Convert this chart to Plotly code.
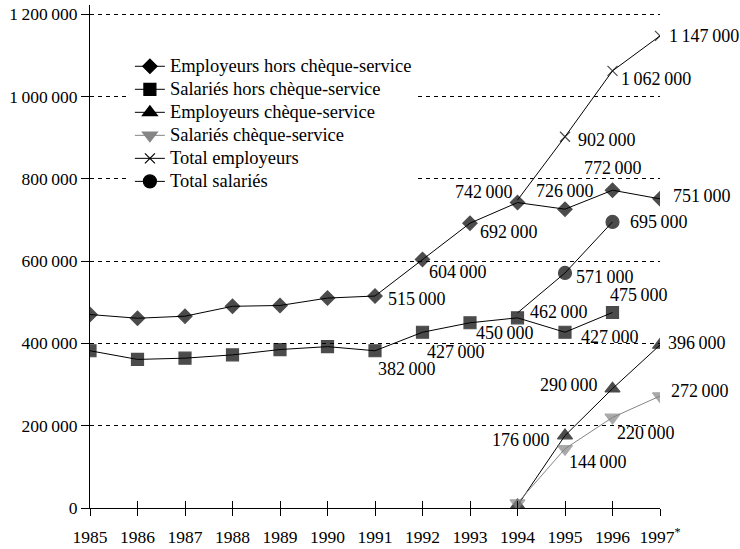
import plotly.graph_objects as go

years = [1985, 1986, 1987, 1988, 1989, 1990, 1991, 1992, 1993, 1994, 1995, 1996, 1997]
year_labels = ["1985", "1986", "1987", "1988", "1989", "1990", "1991", "1992", "1993",
               "1994", "1995", "1996", "1997<sup>*</sup>"]

employeurs_hors = [470000, 461000, 466000, 490000, 492000, 510000, 515000, 604000, 692000,
                   742000, 726000, 772000, 751000]
salaries_hors = [382000, 361000, 364000, 372000, 385000, 392000, 382000, 427000, 450000,
                 462000, 427000, 475000]
cs_years = [1994, 1995, 1996, 1997]
employeurs_cs = [6000, 176000, 290000, 396000]
salaries_cs = [12000, 144000, 220000, 272000]
total_employeurs = [748000, 902000, 1062000, 1147000]
total_salaries_years = [1994, 1995, 1996]
total_salaries = [474000, 571000, 695000]

y_ticks = [0, 200000, 400000, 600000, 800000, 1000000, 1200000]

names = ["Employeurs hors chèque-service", "Salariés hors chèque-service",
         "Employeurs chèque-service", "Salariés chèque-service",
         "Total employeurs", "Total salariés"]


def fmt(v):
    return f"{v:,}".replace(",", "\u2009")


FONT = "Liberation Serif"
GRAY = "#858585"

styles = [
    dict(color="black", symbol="diamond", size=11),
    dict(color="black", symbol="square", size=12),
    dict(color="black", symbol="triangle-up", size=13),
    dict(color=GRAY, symbol="triangle-down", size=13),
    dict(color="black", symbol="x-thin", size=10),
    dict(color="black", symbol="circle", size=13),
]

series = [
    (years, employeurs_hors, False),
    (years[:len(salaries_hors)], salaries_hors, False),
    (cs_years, employeurs_cs, False),
    (cs_years, salaries_cs, False),
    (cs_years, total_employeurs, True),
    (total_salaries_years, total_salaries, True),
]

fig = go.Figure()

for (xs, ys, hide_first), st, name in zip(series, styles, names):
    sizes = [0 if (hide_first and i == 0) else st["size"] for i in range(len(xs))]
    fig.add_trace(go.Scatter(
        x=xs, y=ys, name=name, mode="lines+markers", showlegend=False,
        line=dict(color=st["color"], width=1),
        marker=dict(symbol=st["symbol"], size=sizes, color=st["color"],
                    line=dict(color=st["color"], width=1.2))))

# legend entries
for st, name in zip(styles, names):
    fig.add_trace(go.Scatter(
        x=[None], y=[None], name=f'<span style="font-size:18.5px">{name}</span>',
        mode="lines+markers",
        line=dict(color=st["color"], width=1),
        marker=dict(symbol=st["symbol"], size=st["size"], color=st["color"],
                    line=dict(color=st["color"], width=1.2))))

# Data labels: (series x, series y, index, xanchor, xshift, yshift)
label_specs = [
    (years, employeurs_hors, 6, "left", 11, -3),
    (years, employeurs_hors, 7, "center", 35, -13),
    (years, employeurs_hors, 8, "center", 39, -9),
    (years, employeurs_hors, 9, "center", -34, 11),
    (years, employeurs_hors, 10, "center", 0, 18),
    (years, employeurs_hors, 11, "center", 0, 22),
    (years, employeurs_hors, 12, "left", 11, 3),
    (years, salaries_hors, 6, "center", 32, -18),
    (years, salaries_hors, 7, "center", 33, -20),
    (years, salaries_hors, 8, "center", 35, -10),
    (years, salaries_hors, 9, "left", 10, 6),
    (years, salaries_hors, 10, "left", 14, -5),
    (years, salaries_hors, 11, "center", 26, 17),
    (cs_years, employeurs_cs, 1, "right", -13, -4),
    (cs_years, employeurs_cs, 2, "right", -13, 4),
    (cs_years, employeurs_cs, 3, "left", 6, 2),
    (cs_years, salaries_cs, 1, "center", 33, -13),
    (cs_years, salaries_cs, 2, "center", 33, -16),
    (cs_years, salaries_cs, 3, "left", 9, 5),
    (cs_years, total_employeurs, 1, "left", 11, -3),
    (cs_years, total_employeurs, 2, "left", 6, -8),
    (cs_years, total_employeurs, 3, "left", 7, 0),
    (total_salaries_years, total_salaries, 1, "left", 9, -4),
    (total_salaries_years, total_salaries, 2, "left", 15, 0),
]

for xs, ys, i, xa, dx, dy in label_specs:
    fig.add_annotation(x=xs[i], y=ys[i], text=fmt(ys[i]), showarrow=False,
                       xanchor=xa, yanchor="middle", xshift=dx, yshift=dy,
                       font=dict(family=FONT, size=18, color="black"))

fig.update_layout(
    width=740, height=549,
    margin=dict(l=90, r=80, t=5, b=41),
    paper_bgcolor="white", plot_bgcolor="white",
    font=dict(family=FONT, size=17.5, color="black"),
    showlegend=True,
    legend=dict(x=0.07, y=0.911, xanchor="left", yanchor="top",
                bgcolor="white", borderwidth=0,
                font=dict(family=FONT, size=15.4, color="black"),
                tracegroupgap=0, itemwidth=30),
    xaxis=dict(range=[1985, 1997], tickmode="array", tickvals=years, ticktext=year_labels,
               showgrid=False, zeroline=False, showline=True, linecolor="black", linewidth=1,
               ticks="outside", ticklen=7, tickcolor="black", tickwidth=1, automargin=False,
               ticklabelstandoff=6, tickfont=dict(family=FONT, size=17.5, color="black")),
    xaxis2=dict(range=[1985, 1997], overlaying="x", tickmode="array", tickvals=years,
                showticklabels=False, showgrid=False, zeroline=False, showline=False,
                ticks="inside", ticklen=7, tickcolor="black", tickwidth=1, side="bottom",
                automargin=False),
    yaxis=dict(range=[0, 1222000], tickmode="array", tickvals=y_ticks,
               ticktext=[fmt(v) for v in y_ticks], automargin=False,
               showgrid=True, gridcolor="black", gridwidth=1, griddash="4px,4px",
               zeroline=False, showline=True, linecolor="black", linewidth=1,
               ticks="outside", ticklen=8, tickcolor="black", tickwidth=1,
               tickfont=dict(family=FONT, size=17.5, color="black")),
)

fig.add_trace(go.Scatter(x=[years[0]], y=[y_ticks[0]], xaxis="x2", mode="markers",
                         marker=dict(opacity=0), showlegend=False, hoverinfo="skip"))

fig.write_html("out.html", config={"displayModeBar": False},
               post_script="document.body.style.margin='0';")
